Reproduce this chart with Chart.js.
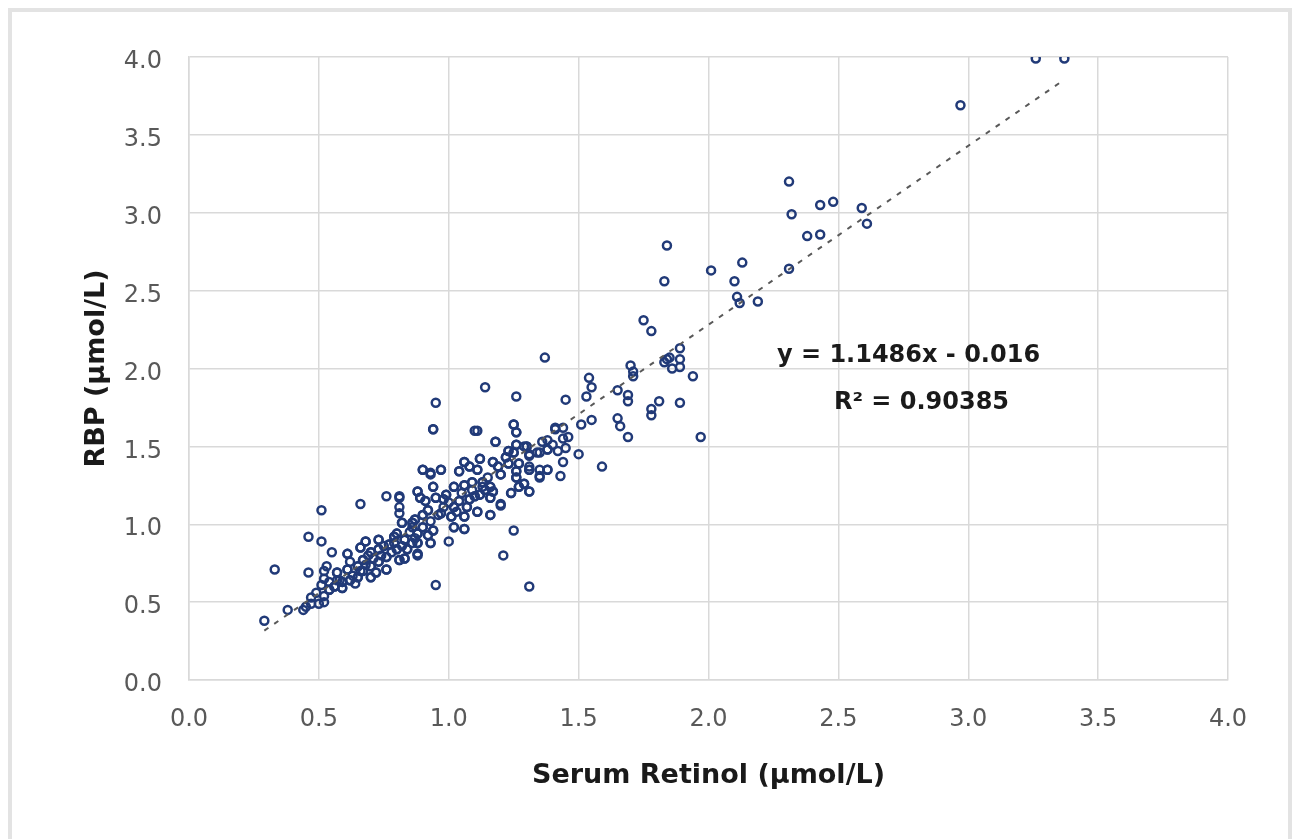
<!DOCTYPE html>
<html>
<head>
<meta charset="utf-8">
<script src="https://cdn.jsdelivr.net/npm/chart.js@4.4.1/dist/chart.umd.min.js"></script>
<style>
  html, body { margin: 0; padding: 0; background: #ffffff; overflow: hidden; }
  #wrap { position: relative; width: 1293px; height: 839px; }
  #frame { position: absolute; left: 8px; top: 8px; width: 1276px; height: 900px; border: 4px solid #e3e3e3; box-sizing: content-box; pointer-events: none; }
  canvas { position: absolute; left: 0; top: 0; }
</style>
</head>
<body>
<div id="wrap">
  <div id="frame"></div>
  <canvas id="c" width="1293" height="839"></canvas>
</div>
<script>
// Serum retinol (µmol/L) for each subject
const retinol = [
  0.29,0.33,0.38,0.44,0.45,0.46,0.46,0.47,0.47,0.49,0.50,0.51,0.51,0.51,0.52,0.52,0.52,0.53,0.52,0.54,
  0.54,0.55,0.56,0.57,0.57,0.59,0.59,0.61,0.62,0.62,0.61,0.63,0.64,0.65,0.65,0.66,0.66,0.67,0.66,0.68,
  0.68,0.69,0.70,0.70,0.70,0.71,0.72,0.73,0.73,0.73,0.74,0.75,0.76,0.76,0.76,0.77,0.78,0.79,0.79,0.80,
  0.80,0.81,0.81,0.81,0.81,0.82,0.82,0.83,0.83,0.84,0.85,0.86,0.86,0.87,0.88,0.88,0.88,0.87,0.88,0.89,
  0.90,0.90,0.90,0.91,0.92,0.92,0.93,0.93,0.93,0.94,0.94,0.94,0.95,0.95,0.95,0.96,0.97,0.97,0.98,0.98,
  0.99,1.00,1.00,1.01,1.02,1.02,1.02,1.03,1.04,1.04,1.05,1.06,1.06,1.06,1.06,1.07,1.08,1.08,1.09,1.09,
  1.10,1.10,1.11,1.11,1.12,1.12,1.13,1.13,1.14,1.14,1.15,1.16,1.16,1.16,1.17,1.17,1.18,1.19,1.20,1.20,
  1.21,1.22,1.23,1.23,1.24,1.25,1.25,1.25,1.26,1.26,1.26,1.26,1.26,1.27,1.27,1.29,1.29,1.30,1.31,1.31,
  1.31,1.31,1.31,1.34,1.35,1.35,1.36,1.37,1.38,1.38,1.38,1.40,1.41,1.42,1.43,1.44,1.44,1.44,1.45,1.45,
  1.46,1.50,1.51,1.53,1.54,1.55,1.55,1.59,1.65,1.65,1.66,1.69,1.69,1.69,1.70,1.71,1.71,1.75,1.78,1.78,
  1.78,1.81,1.83,1.84,1.83,1.84,1.85,1.86,1.89,1.89,1.89,1.89,1.94,1.97,2.01,2.10,2.11,2.12,2.13,2.19,
  2.31,2.31,2.32,2.38,2.43,2.43,2.48,2.59,2.61,2.97,3.26,3.37,
  0.89,0.88,0.93,0.88,0.88,0.92,0.86,0.90,0.94,0.87,0.90,0.92,0.88,0.91,0.95,0.99,0.98,0.97,1.02,1.06,
  1.01,1.06,1.11,1.07,1.02,1.04,1.08,1.16,1.20,1.16,1.10,1.12,1.14,1.17,1.16,1.13,1.09,1.06,1.02,0.94,
  0.90,0.93,0.97,1.04,1.11,1.08,1.06,1.12,1.17,1.19,1.20,1.22,1.23,1.26,1.29,1.27,1.31,1.24,1.26,1.31,
  1.35,1.38,1.27,1.31,1.25,1.23,1.26,1.30,1.35,1.38,1.41,1.25,1.26,1.18,1.11,0.94,
  0.54,0.56,0.58,0.57,0.59,0.59,0.61,0.62,0.61,0.65,0.65,0.67,0.67,0.66,0.68,0.70,0.70,0.72,0.70,0.73,
  0.73,0.73,0.76,0.76,0.77,0.79,0.80,0.81,0.80,0.83,0.82,0.86,0.88,0.84,0.83,0.81
];

// Retinol-binding protein (µmol/L), paired with retinol above
const rbp = [
  0.38,0.71,0.45,0.45,0.47,0.69,0.92,0.49,0.53,0.56,0.49,0.89,1.09,0.61,0.50,0.70,0.54,0.73,0.65,0.63,
  0.58,0.82,0.60,0.64,0.69,0.59,0.63,0.71,0.64,0.76,0.81,0.67,0.62,0.66,0.73,0.70,1.13,0.77,0.85,0.89,
  0.74,0.80,0.66,0.73,0.82,0.78,0.69,0.76,0.84,0.90,0.80,0.86,0.71,0.79,1.18,0.87,0.82,0.92,0.88,0.84,
  0.94,0.77,1.17,1.11,1.07,1.01,0.86,0.90,0.78,0.84,0.95,1.01,0.88,0.91,0.81,0.94,0.88,1.03,1.21,1.17,
  1.35,1.06,0.98,1.15,0.93,1.09,1.32,0.88,1.02,1.24,0.96,1.61,1.78,0.61,1.17,1.06,1.35,1.07,1.16,1.11,
  1.19,0.89,1.14,1.05,0.98,1.11,1.24,1.08,1.15,1.34,1.20,1.05,1.25,0.97,1.40,1.11,1.16,1.37,1.27,1.22,
  1.18,1.60,1.08,1.35,1.42,1.19,1.27,1.24,1.88,1.22,1.30,1.24,1.17,1.06,1.21,1.40,1.53,1.37,1.32,1.13,
  0.80,1.43,1.47,1.39,1.20,0.96,1.46,1.64,1.82,1.59,1.51,1.34,1.30,1.39,1.24,1.26,1.50,1.50,1.21,1.35,
  1.37,1.44,0.60,1.46,1.30,1.35,1.53,2.07,1.54,1.48,1.35,1.51,1.61,1.47,1.31,1.40,1.62,1.55,1.49,1.80,
  1.56,1.45,1.64,1.82,1.94,1.88,1.67,1.37,1.86,1.68,1.63,1.83,1.79,1.56,2.02,1.98,1.95,2.31,2.24,1.74,
  1.70,1.79,2.56,2.79,2.04,2.06,2.07,2.00,2.06,2.13,2.01,1.78,1.95,1.56,2.63,2.56,2.46,2.42,2.68,2.43,
  2.64,3.20,2.99,2.85,2.86,3.05,3.07,3.03,2.93,3.69,3.99,3.99,
  1.17,0.94,0.88,0.88,0.80,0.93,0.98,0.98,0.96,1.03,1.06,1.09,1.21,1.15,1.17,1.19,1.16,1.07,0.98,0.97,
  1.05,1.05,1.08,1.11,1.11,1.15,1.16,1.06,1.12,1.17,1.18,1.19,1.22,1.21,1.24,1.27,1.27,1.25,1.24,1.24,
  1.35,1.33,1.35,1.34,1.35,1.37,1.40,1.42,1.40,1.37,1.32,1.43,1.39,1.30,1.26,1.24,1.21,1.20,1.34,1.35,
  1.31,1.35,1.39,1.45,1.46,1.47,1.51,1.50,1.46,1.48,1.62,1.64,1.59,1.53,1.60,1.61,
  0.58,0.60,0.64,0.69,0.63,0.59,0.71,0.64,0.81,0.66,0.73,0.70,0.77,0.85,0.89,0.82,0.73,0.69,0.66,0.76,
  0.84,0.90,0.71,0.79,0.87,0.92,0.84,0.77,0.94,0.90,1.01,1.01,0.81,0.84,0.78,1.18
];

// Linear fit shown on the chart
const fitSlope = 1.1486;
const fitIntercept = -0.016;
const fitLabel = 'y = 1.1486x - 0.016';
const r2Label = 'R\u00B2 = 0.90385';

// Axis tick labels
const xTickLabels = ['0.0','0.5','1.0','1.5','2.0','2.5','3.0','3.5','4.0'];
const yTickLabels = ['0.0','0.5','1.0','1.5','2.0','2.5','3.0','3.5','4.0'];

const xTitle = 'Serum Retinol (\u00B5mol/L)';
const yTitle = 'RBP (\u00B5mol/L)';

const points = retinol.map((x, i) => ({ x: x, y: rbp[i] }));
const xMin = Math.min(...retinol);
const xMax = Math.max(...retinol);
const fitLine = [
  { x: xMin, y: fitSlope * xMin + fitIntercept },
  { x: xMax, y: fitSlope * xMax + fitIntercept }
];

const NAVY = '#213a78';
const GRID = '#d9d9d9';
const TICK = '#595959';
const TICK_FONT = '"DejaVu Sans", "Open Sans", sans-serif';
const BOLD_FONT = '"DejaVu Sans", "Open Sans", sans-serif';

// Regression equation text, anchored in data space
const equationPlugin = {
  id: 'equation',
  afterDatasetsDraw(chart) {
    const { ctx, scales } = chart;
    ctx.save();
    ctx.fillStyle = '#1a1a1a';
    ctx.font = 'bold 24px ' + BOLD_FONT;
    ctx.textAlign = 'center';
    ctx.textBaseline = 'middle';
    ctx.fillText(fitLabel, scales.x.getPixelForValue(2.77), scales.y.getPixelForValue(2.08));
    ctx.fillText(r2Label, scales.x.getPixelForValue(2.82), scales.y.getPixelForValue(1.78));
    ctx.restore();
  }
};

new Chart(document.getElementById('c'), {
  type: 'scatter',
  data: {
    datasets: [
      {
        type: 'line',
        label: 'Linear fit',
        data: fitLine,
        borderColor: '#595959',
        borderWidth: 2,
        borderDash: [5, 7],
        pointRadius: 0,
        fill: false,
        order: 0
      },
      {
        label: 'RBP',
        data: points,
        pointStyle: 'circle',
        pointRadius: 4,
        pointBorderWidth: 2.5,
        borderColor: NAVY,
        pointBorderColor: NAVY,
        backgroundColor: 'rgba(0,0,0,0)',
        pointBackgroundColor: 'rgba(0,0,0,0)',
        order: 1
      }
    ]
  },
  options: {
    responsive: false,
    animation: false,
    events: [],
    layout: { padding: { left: 70, top: 57, right: 65, bottom: 40 } },
    plugins: {
      legend: { display: false },
      tooltip: { enabled: false }
    },
    scales: {
      x: {
        type: 'linear',
        min: 0, max: 4,
        afterFit(scale) { scale.height = 119; },
        grid: { color: GRID, lineWidth: 1.5, drawTicks: false },
        border: { color: GRID, width: 1.5 },
        ticks: {
          stepSize: 0.5,
          padding: 25,
          color: TICK,
          font: { family: TICK_FONT, size: 24 },
          callback: (v, i) => xTickLabels[i]
        },
        title: {
          display: true,
          text: xTitle,
          color: '#1a1a1a',
          font: { family: BOLD_FONT, size: 27, weight: 'bold' },
          padding: { top: 0, bottom: 7 }
        }
      },
      y: {
        type: 'linear',
        min: 0, max: 4,
        afterFit(scale) { scale.width = 119; },
        grid: { color: GRID, lineWidth: 1.5, drawTicks: false },
        border: { color: GRID, width: 1.5 },
        ticks: {
          stepSize: 0.5,
          padding: 27,
          labelOffset: 5,
          color: TICK,
          font: { family: TICK_FONT, size: 24 },
          callback: (v, i) => yTickLabels[i]
        },
        title: {
          display: true,
          text: yTitle,
          color: '#1a1a1a',
          font: { family: BOLD_FONT, size: 27, weight: 'bold' },
          padding: { top: 11, bottom: 0 }
        }
      }
    }
  },
  plugins: [equationPlugin]
});
</script>
</body>
</html>
